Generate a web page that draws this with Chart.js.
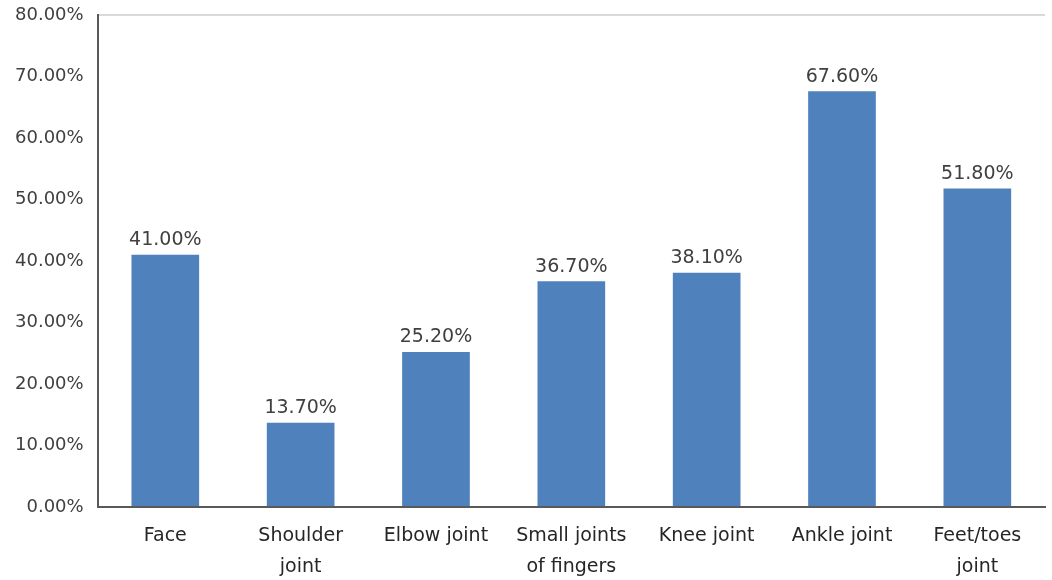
<!DOCTYPE html>
<html>
<head>
<meta charset="utf-8">
<script src="https://cdn.jsdelivr.net/npm/chart.js@4"></script>
<style>
  html, body { margin: 0; padding: 0; background: #ffffff; }
  #wrap { width: 1052px; height: 580px; position: relative; }
</style>
</head>
<body>
<div id="wrap"><canvas id="c" width="1052" height="580"></canvas></div>
<script>
const categories = [
  'Face',
  ['Shoulder', 'joint'],
  'Elbow joint',
  ['Small joints', 'of fingers'],
  'Knee joint',
  'Ankle joint',
  ['Feet/toes', 'joint']
];
const values = [41.0, 13.7, 25.2, 36.7, 38.1, 67.6, 51.8];
const yMin = 0;
const yMax = 80;
const yStep = 10;

const valueLabels = {
  id: 'valueLabels',
  afterDatasetsDraw(chart) {
    const ctx = chart.ctx;
    const meta = chart.getDatasetMeta(0);
    ctx.save();
    ctx.font = '19px "DejaVu Sans"';
    ctx.fillStyle = '#404040';
    ctx.textAlign = 'center';
    ctx.textBaseline = 'bottom';
    meta.data.forEach((bar, i) => {
      ctx.fillText(values[i].toFixed(2) + '%', bar.x, bar.y - 5);
    });
    ctx.restore();
  }
};

new Chart(document.getElementById('c'), {
  type: 'bar',
  data: {
    labels: categories,
    datasets: [{
      data: values,
      backgroundColor: '#4f81bd',
      borderWidth: 0,
      barPercentage: 0.5,
      categoryPercentage: 1.0
    }]
  },
  options: {
    responsive: false,
    animation: false,
    devicePixelRatio: 1,
    layout: { padding: { left: 1, right: 7, top: 15, bottom: -16 } },
    plugins: {
      legend: { display: false },
      tooltip: { enabled: false }
    },
    scales: {
      x: {
        grid: { display: false, drawTicks: false },
        border: { display: true, color: '#595959', width: 2 },
        ticks: {
          color: '#262626',
          font: { family: '"DejaVu Sans"', size: 19, lineHeight: 1.66 },
          padding: 13,
          maxRotation: 0,
          autoSkip: false
        }
      },
      y: {
        min: yMin,
        max: yMax,
        afterFit: (scale) => { scale.paddingTop = 0; scale.paddingBottom = 0; },
        grid: {
          drawTicks: false,
          color: (c) => (c.tick && c.tick.value === yMax) ? '#d9d9d9' : 'rgba(0,0,0,0)',
          lineWidth: 2
        },
        border: { display: true, color: '#595959', width: 2 },
        ticks: {
          stepSize: yStep,
          color: '#404040',
          font: { family: '"DejaVu Sans"', size: 18 },
          padding: 14,
          callback: (v) => v.toFixed(2) + '%'
        }
      }
    }
  },
  plugins: [valueLabels]
});
</script>
</body>
</html>
